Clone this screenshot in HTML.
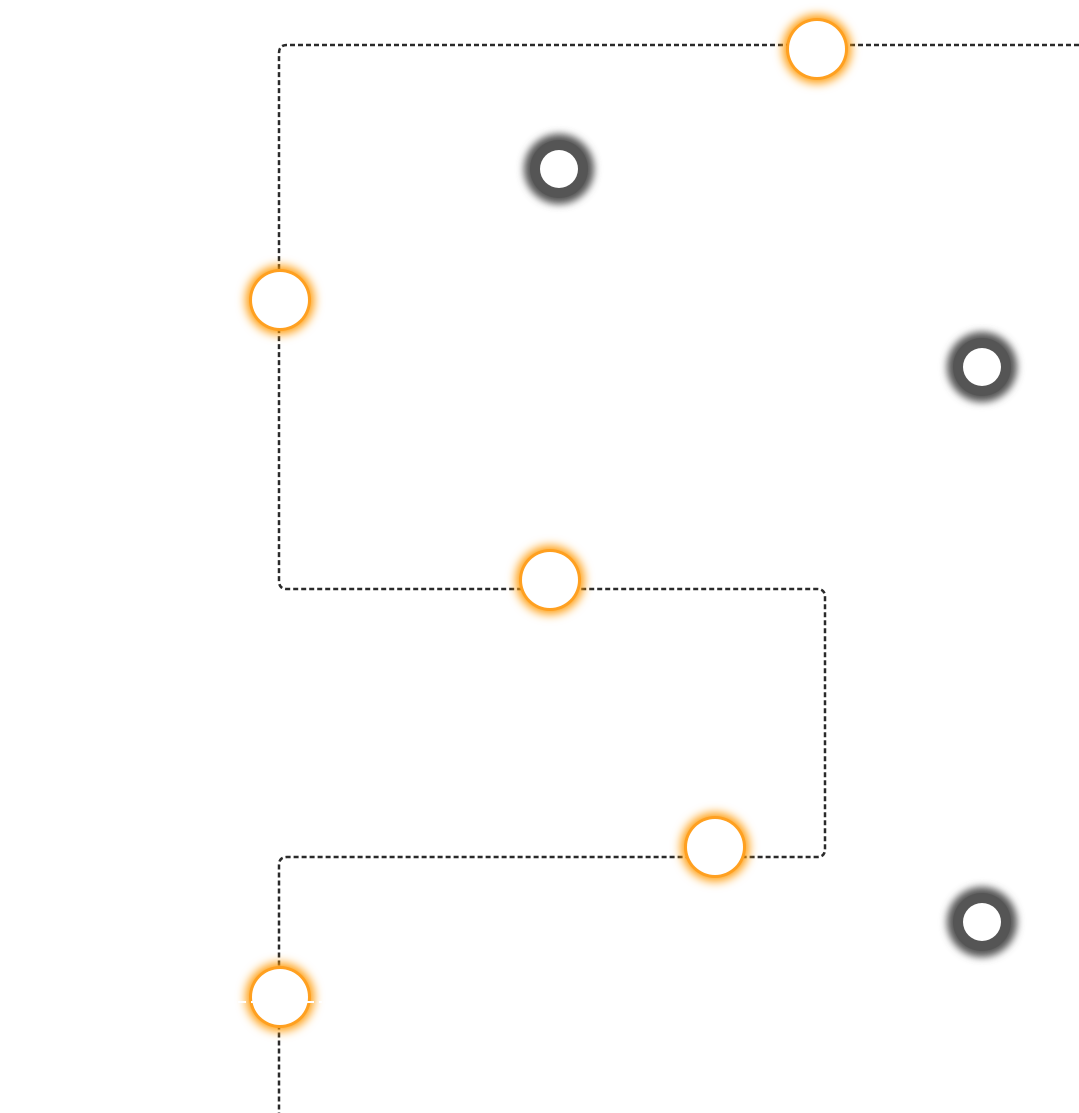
<!DOCTYPE html>
<html><head><style>html,body{margin:0;padding:0;background:#fff;width:1079px;height:1113px;overflow:hidden}</style></head>
<body>
<svg width="1079" height="1113" viewBox="0 0 1079 1113" xmlns="http://www.w3.org/2000/svg">
<defs>
<filter id="og" x="-60%" y="-60%" width="220%" height="220%"><feGaussianBlur stdDeviation="5"/></filter>
<filter id="gg" x="-60%" y="-60%" width="220%" height="220%"><feGaussianBlur stdDeviation="4"/></filter>
</defs>
<path d="M1079 45 H287 Q279 45 279 53 V581 Q279 589 287 589 H817 Q825 589 825 597 V849 Q825 857 817 857 H287 Q279 857 279 865 V1113" fill="none" stroke="#2a2a2a" stroke-width="2.5" stroke-dasharray="5 3"/>
<g>
<g transform="translate(817,49)"><circle r="34" fill="#ff9800" filter="url(#og)"/><circle r="31" fill="#ffa020"/><circle r="28" fill="#fff"/></g>
<g transform="translate(280,300)"><circle r="34" fill="#ff9800" filter="url(#og)"/><circle r="31" fill="#ffa020"/><circle r="28" fill="#fff"/></g>
<g transform="translate(550,580)"><circle r="34" fill="#ff9800" filter="url(#og)"/><circle r="31" fill="#ffa020"/><circle r="28" fill="#fff"/></g>
<g transform="translate(715,847)"><circle r="34" fill="#ff9800" filter="url(#og)"/><circle r="31" fill="#ffa020"/><circle r="28" fill="#fff"/></g>
<g transform="translate(280,997)"><circle r="34" fill="#ff9800" filter="url(#og)"/><circle r="31" fill="#ffa020"/><circle r="28" fill="#fff"/></g>
<line x1="238" y1="1002" x2="254" y2="1002" stroke="#fff" stroke-width="2" stroke-dasharray="8 5"/>
<line x1="306" y1="1002" x2="322" y2="1002" stroke="#fff" stroke-width="2" stroke-dasharray="8 5"/>
</g>
<g>
<g transform="translate(559,169)"><circle r="35" fill="#555" filter="url(#gg)"/><circle r="29" fill="#555"/><circle r="19" fill="#fff"/></g>
<g transform="translate(982,367)"><circle r="35" fill="#555" filter="url(#gg)"/><circle r="29" fill="#555"/><circle r="19" fill="#fff"/></g>
<g transform="translate(982,922)"><circle r="35" fill="#555" filter="url(#gg)"/><circle r="29" fill="#555"/><circle r="19" fill="#fff"/></g>
</g>
</svg>
</body></html>
